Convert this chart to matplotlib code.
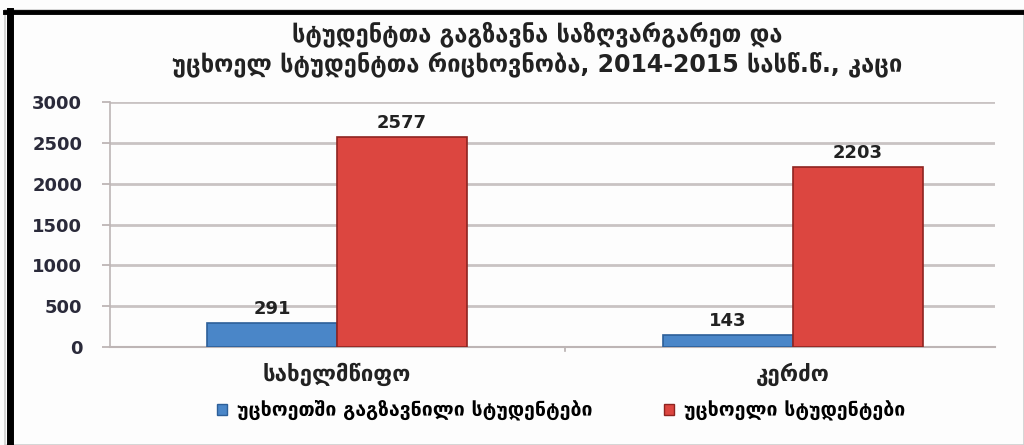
import matplotlib
matplotlib.use("Agg")
import matplotlib.pyplot as plt
from matplotlib.patches import Rectangle, Patch
from matplotlib.lines import Line2D

title = "სტუდენტთა გაგზავნა საზღვარგარეთ და\nუცხოელ სტუდენტთა რიცხოვნობა, 2014-2015 სასწ.წ., კაცი"
categories = ["სახელმწიფო", "კერძო"]
series_names = ["უცხოეთში გაგზავნილი სტუდენტები", "უცხოელი სტუდენტები"]
sent_abroad = [291, 143]
foreign = [2577, 2203]
yticks = [0, 500, 1000, 1500, 2000, 2500, 3000]

plt.rcParams['font.family'] = ['DejaVu Sans']

fig = plt.figure(figsize=(10.24, 4.45), dpi=100)
fig.patch.set_facecolor('#fdfdfd')
ax = fig.add_axes([110/1024, 1-347/445, 885/1024, 245/445])
ax.set_facecolor('#fdfdfd')

w = 0.285
xs = list(range(len(categories)))
blue = '#4a86c8'
red = '#dc4640'
b1 = ax.bar([x - w/2 for x in xs], sent_abroad, width=w, color=blue,
            edgecolor='#2d5f99', linewidth=1.2, zorder=3)
b2 = ax.bar([x + w/2 for x in xs], foreign, width=w, color=red,
            edgecolor='#8e2420', linewidth=1.2, zorder=3)

for rect, v in zip(list(b1) + list(b2), sent_abroad + foreign):
    ax.text(rect.get_x() + rect.get_width()/2, v + 60, str(v),
            ha='center', va='bottom', fontsize=13, fontweight='bold', color='#222222')

ax.set_ylim(0, 3000)
ax.set_xlim(-0.498, 1.443)
ax.set_yticks(yticks)
ax.set_yticklabels([str(t) for t in yticks], fontsize=13, fontweight='bold', color='#2a2a3a')
ax.set_xticks(xs)
ax.set_xticklabels(categories, fontsize=16, fontweight='bold', color='#222222')
ax.tick_params(axis='x', length=0, pad=11)
ax.tick_params(axis='y', length=6, color='#b8b0b0', pad=14, width=1.2)
ax.yaxis.grid(True, color='#c9c3c3', linewidth=2, zorder=0)
for s in ['top', 'right']:
    ax.spines[s].set_visible(False)
ax.spines['left'].set_color('#bdb5b5')
ax.spines['left'].set_linewidth(1.2)
ax.spines['bottom'].set_color('#bdb5b5')
ax.spines['bottom'].set_linewidth(1.5)
# category separator tick
ax.plot([0.5, 0.5], [0, -45], color='#b8b0b0', lw=1.2, clip_on=False)

fig.text(0.525, 1-49/445, title, ha='center', va='center', fontsize=17,
         fontweight='bold', color='#222222', linespacing=1.2)

handles = [Patch(facecolor=blue, edgecolor='#2d5f99'), Patch(facecolor=red, edgecolor='#8e2420')]
fig.legend(handles, series_names, loc='center', bbox_to_anchor=(0.548, 1-411/445),
           ncol=2, frameon=False, prop={'size': 14, 'weight': 'bold'},
           handlelength=0.5, handleheight=0.5,
           handletextpad=0.5, columnspacing=3.7)

# frame
fig.add_artist(Rectangle((5/1024, 0), 1019/1024, 1-10/445, transform=fig.transFigure,
                         fill=False, edgecolor='#cfcfcf', linewidth=1.2))
fig.add_artist(Line2D([5/1024, 1], [1-12/445, 1-12/445], color='black', linewidth=3.5, transform=fig.transFigure))
fig.add_artist(Line2D([10/1024, 10/1024], [0, 1-11/445], color='black', linewidth=5, transform=fig.transFigure))

fig.savefig('out.png', dpi=100, facecolor=fig.get_facecolor())
